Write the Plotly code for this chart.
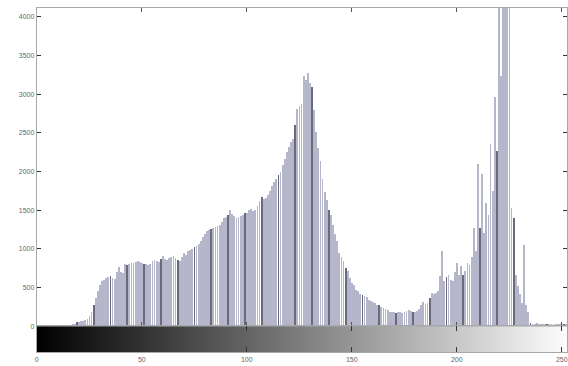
import plotly.graph_objects as go

bins = list(range(256))
counts = (
    [0] * 13 +
    [5, 10, 15, 20, 30, 35, 50, 60, 75, 70, 85, 90, 130, 180, 280, 370, 460,   # 13-29
     530, 580, 600, 620, 640, 650, 630, 615, 700, 770,                          # 30-39
     700, 690, 800, 790, 810, 820, 820, 835, 846, 830,                          # 40-49
     815, 808, 800, 795, 810, 840, 860, 845, 830, 870,                          # 50-59
     910, 870, 860, 880, 895, 910, 880, 860, 846, 900,                          # 60-69
     950, 923, 975, 987, 1000, 1030, 1040, 1070, 1100, 1150,                    # 70-79
     1190, 1230, 1250, 1260, 1270, 1290, 1300, 1310, 1350, 1400,                # 80-89
     1410, 1440, 1500, 1450, 1423, 1400, 1410, 1423, 1440, 1460,                # 90-99
     1470, 1500, 1513, 1490, 1500, 1560, 1620, 1667, 1640, 1654,                # 100-109
     1700, 1756, 1820, 1870, 1900, 1950, 2000, 2080, 2167, 2250,                # 110-119
     2320, 2380, 2423, 2600, 2808, 2850, 2870, 3230, 3190, 3270,                # 120-129
     3150, 3100, 2800, 2513, 2300, 2140, 1900, 1743, 1628, 1500,                # 130-139
     1436, 1308, 1200, 1100, 950, 900, 846, 760, 718, 620,                      # 140-149
     564, 540, 470, 460, 420, 400, 390, 385, 340, 333,                          # 150-159
     320, 300, 282, 270, 256, 240, 230, 215, 192, 185,                          # 160-169
     180, 175, 185, 180, 175, 180, 195, 205, 195, 185,                          # 170-179
     180, 200, 230, 270, 320, 290, 307, 370, 436, 420,                          # 180-189
     436, 460, 654, 974, 590, 640, 667, 603, 590, 700,                          # 190-199
     820, 667, 780, 667, 718, 820, 795, 900, 1270, 974,                         # 200-209
     2100, 1270, 1975, 1205, 1600, 1436, 2360, 1756, 2960, 2270,                # 210-219
     4800, 3230, 5200, 5500, 4900, 4400, 1525, 1400, 667, 525,                  # 220-229
     420, 300, 1050, 270, 180, 40, 35, 30, 38, 32,                              # 230-239
     30, 36, 34, 30, 35, 32, 30, 34, 36, 30,                                    # 240-249
     32, 30, 28, 30, 26, 20]                                                    # 250-255
)

ytick_vals = [0, 500, 1000, 1500, 2000, 2500, 3000, 3500, 4000]
xtick_vals = [0, 50, 100, 150, 200, 250]

bar_colors = ['#6a6a7c' if i % 8 == 3 else '#b6b6ca' for i in bins]

fig = go.Figure()
fig.add_trace(go.Bar(x=bins, y=counts, width=0.38, marker=dict(color=bar_colors, line=dict(width=0)),
                     xaxis='x', yaxis='y', showlegend=False))
fig.add_trace(go.Heatmap(x=bins, y=[0], z=[bins], colorscale=[[0, 'black'], [1, 'white']],
                         zmin=0, zmax=255, showscale=False, xaxis='x2', yaxis='y2'))

axis_line = '#a8a8a8'
tickfont = dict(family='Liberation Sans, Arial, sans-serif', size=7, color='#666666')
XR = [0, 252.5]
fig.update_layout(
    width=568, height=366,
    margin=dict(l=0, r=0, t=0, b=0),
    paper_bgcolor='white', plot_bgcolor='white',
    bargap=0,
    xaxis=dict(domain=[0.0616, 1.0], range=XR, anchor='y', showticklabels=False,
               tickvals=xtick_vals, ticks='inside', ticklen=4, tickcolor='#555555',
               showline=True, linecolor=axis_line, mirror='ticks', showgrid=False, zeroline=False),
    yaxis=dict(domain=[0.101, 0.978], range=[0, 4115], anchor='x',
               tickvals=ytick_vals, ticktext=[str(v) for v in ytick_vals],
               ticks='inside', ticklen=4, tickcolor='#333333', tickfont=tickfont,
               showline=True, linecolor=axis_line, mirror='ticks', showgrid=False, zeroline=False),
    xaxis2=dict(domain=[0.0616, 1.0], range=XR, anchor='y2',
                tickvals=xtick_vals, ticktext=[str(v) for v in xtick_vals],
                ticks='inside', ticklen=5, tickcolor='#333333', tickfont=tickfont,
                showline=True, linecolor=axis_line, mirror='ticks', showgrid=False, zeroline=False),
    yaxis2=dict(domain=[0.030, 0.101], range=[-0.5, 0.5], anchor='x2', showticklabels=False,
                ticks='', showline=True, linecolor=axis_line, mirror=True, showgrid=False, zeroline=False),
)

fig.write_html("out.html")
